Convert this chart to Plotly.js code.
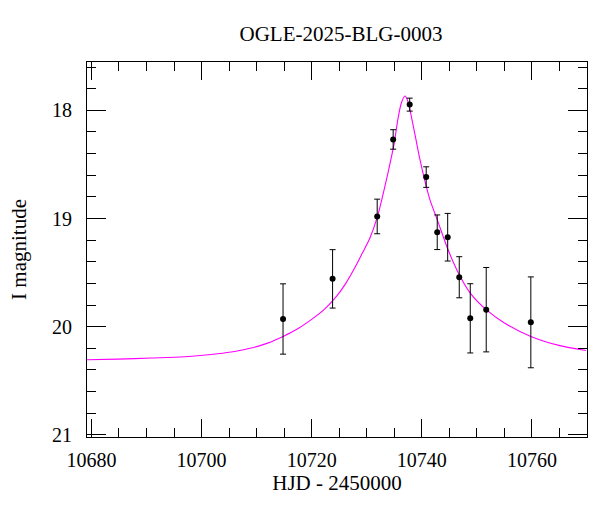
<!DOCTYPE html>
<html>
<head>
<meta charset="utf-8">
<script src="https://cdn.plot.ly/plotly-3.0.1.min.js"></script>
<style>html,body{margin:0;padding:0;background:#fff;}#chart{width:600px;height:512px;}</style>
</head>
<body>
<div id="chart"></div>
<script>
// Observed photometry (HJD - 2450000, I mag, error)
const obsHJD = [10714.8, 10723.8, 10731.9, 10734.8, 10737.8, 10740.8, 10742.8, 10744.7, 10746.8, 10748.8, 10751.7, 10759.8];
const obsMag = [19.929, 19.558, 18.981, 18.269, 17.947, 18.617, 19.127, 19.173, 19.543, 19.923, 19.843, 19.960];
const obsErr = [0.325, 0.270, 0.160, 0.090, 0.060, 0.095, 0.160, 0.220, 0.190, 0.320, 0.390, 0.420];

// Model curve
const modelHJD = [10679.2, 10684.8, 10690.9, 10696.9, 10702.9, 10706, 10709, 10712, 10714.9, 10717.4, 10719.8, 10722.3, 10724.5, 10726.2, 10728, 10729.2, 10730.5, 10731.9, 10733.4, 10734.4, 10735.0, 10735.7, 10736.3, 10736.94, 10737.5, 10738.15, 10738.9, 10739.6, 10740.5, 10741.5, 10742.8, 10744.7, 10746.8, 10748.8, 10751.7, 10755, 10759.8, 10764.9, 10769.8];
const modelMag = [20.306, 20.30, 20.29, 20.278, 20.25, 20.229, 20.198, 20.152, 20.088, 20.022, 19.94, 19.84, 19.72, 19.60, 19.44, 19.32, 19.19, 18.99, 18.68, 18.45, 18.30, 18.07, 17.93, 17.868, 17.92, 18.07, 18.26, 18.44, 18.64, 18.83, 19.01, 19.28, 19.52, 19.69, 19.843, 19.966, 20.09, 20.173, 20.22];

const xTickVals = [10680, 10700, 10720, 10740, 10760];
const yTickVals = [18, 19, 20, 21];

const FONT = 'Liberation Serif, Times New Roman, serif';

const traces = [
  {
    x: modelHJD, y: modelMag, type: 'scatter', mode: 'lines',
    line: {color: '#ff00ff', width: 1.1, shape: 'spline', smoothing: 0.8},
    hoverinfo: 'skip', showlegend: false
  },
  {
    x: obsHJD, y: obsMag, type: 'scatter', mode: 'markers',
    marker: {color: 'black', size: 6},
    error_y: {type: 'data', array: obsErr, visible: true, color: 'black', thickness: 1, width: 3},
    showlegend: false
  }
];

const layout = {
  width: 600, height: 512,
  margin: {l: 87, r: 13, t: 62, b: 75},
  paper_bgcolor: 'white', plot_bgcolor: 'white',
  font: {family: FONT, size: 20, color: 'black'},
  title: {text: 'OGLE-2025-BLG-0003', font: {family: FONT, size: 21, color: 'black'},
          xref: 'paper', x: 0.508, xanchor: 'center', yref: 'container', y: 1 - 34/512, yanchor: 'middle'},
  xaxis: {
    range: [10679.2, 10770], tickmode: 'array', tickvals: xTickVals, ticktext: xTickVals.map(String),
    ticks: 'inside', ticklen: 18, tickwidth: 1, tickcolor: 'black',
    minor: {dtick: 5, tick0: 10680, ticks: 'inside', ticklen: 9, tickwidth: 1, tickcolor: 'black'},
    showline: true, linecolor: 'black', linewidth: 1, mirror: 'allticks',
    showgrid: false, zeroline: false,
    ticklabelstandoff: 5,
    tickfont: {family: FONT, size: 20, color: 'black'},
    title: {text: 'HJD - 2450000', font: {family: FONT, size: 21, color: 'black'}, standoff: 5}
  },
  yaxis: {
    range: [21.02, 17.553], tickmode: 'array', tickvals: yTickVals, ticktext: yTickVals.map(String),
    ticks: 'inside', ticklen: 19, tickwidth: 1, tickcolor: 'black',
    minor: {dtick: 0.2, tick0: 17, ticks: 'inside', ticklen: 9, tickwidth: 1, tickcolor: 'black'},
    showline: true, linecolor: 'black', linewidth: 1, mirror: 'allticks',
    showgrid: false, zeroline: false,
    ticklabelstandoff: 10,
    tickfont: {family: FONT, size: 20, color: 'black'},
    title: {text: 'I magnitude', font: {family: FONT, size: 21, color: 'black'}, standoff: 19}
  }
};

Plotly.newPlot('chart', traces, layout, {displayModeBar: false, staticPlot: true});
</script>
</body>
</html>
